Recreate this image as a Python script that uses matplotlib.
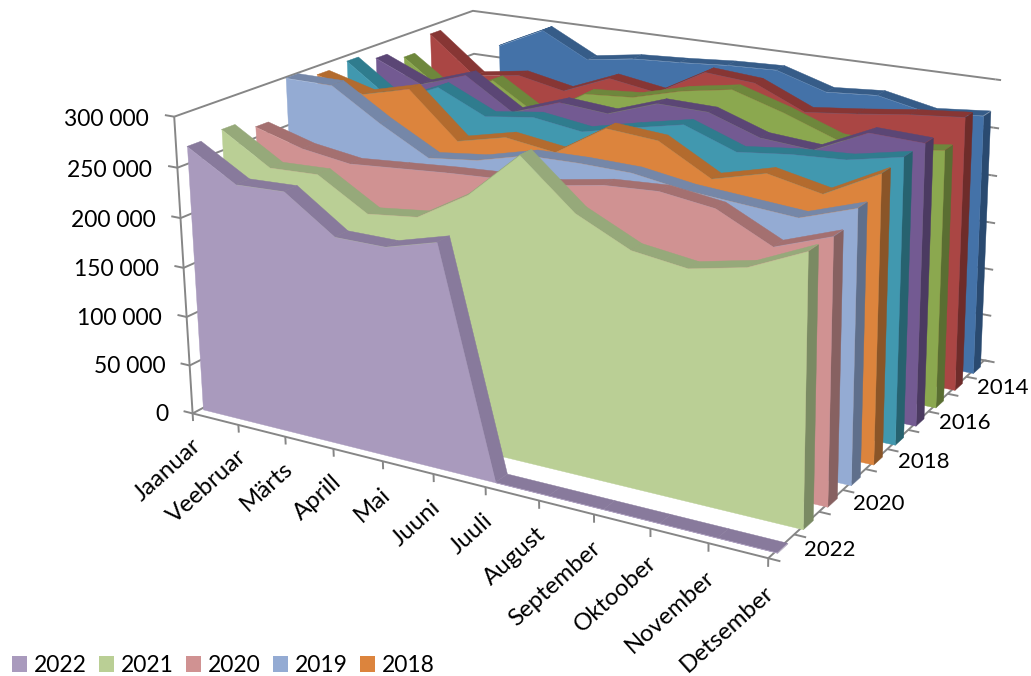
"""3D area chart of monthly values per year, Excel style"""

import numpy as np
import matplotlib
matplotlib.use("Agg")
import matplotlib.pyplot as plt
from matplotlib.patches import Patch
from mpl_toolkits.mplot3d import proj3d
from mpl_toolkits.mplot3d.art3d import Poly3DCollection

plt.rcParams['font.family'] = ['Lato', 'DejaVu Sans']

months = ['Jaanuar', 'Veebruar', 'Märts', 'Aprill', 'Mai', 'Juuni', 'Juuli', 'August',
          'September', 'Oktoober', 'November', 'Detsember']
years = [2022, 2021, 2020, 2019, 2018, 2017, 2016, 2015, 2014, 2013]
legend_years = [2022, 2021, 2020, 2019, 2018]
depth_labels = [2022, 2020, 2018, 2016, 2014]
value_ticks = [0, 50000, 100000, 150000, 200000, 250000, 300000]
value_labels = ['0', '50 000', '100 000', '150 000', '200 000', '250 000', '300 000']

v2022 = [268, 239, 241, 206, 206, 220, 0, 0, 0, 0, 0, 0]
v2021 = [272, 242, 244, 214, 220, 250, 296, 251, 226, 219, 230, 254]
v2020 = [262, 248, 241, 245, 249, 252, 254, 263, 266, 259, 233, 252]
v2019 = [300, 300, 269, 242, 248, 261, 262, 261, 253, 249, 245, 263]
v2018 = [292, 279, 292, 246, 258, 251, 283, 279, 250, 264, 253, 281]
v2017 = [295, 260, 282, 259, 266, 259, 271, 282, 263, 269, 272, 283]
v2016 = [287, 266, 283, 251, 269, 265, 283, 282, 264, 260, 285, 283]
v2015 = [277, 242, 266, 235, 266, 270, 284, 293, 277, 258, 256, 263]
v2014 = [292, 252, 260, 250, 271, 263, 292, 288, 265, 271, 278, 283]
v2013 = [np.nan, 275, 299, 273, 281, 284, 288, 290, 274, 278, 267, 272]
series = [v2022, v2021, v2020, v2019, v2018, v2017, v2016, v2015, v2014, v2013]

front_colors = ['#A99ABD', '#BACF95', '#D09292', '#94ABD3', '#DC843D',
                '#4198AF', '#735A92', '#8BA84F', '#AA4644', '#4472A8']
top_colors = ['#887A9C', '#96A97A', '#A47070', '#7587A8', '#B36B2E',
              '#2F7C8E', '#5B4675', '#6E873C', '#873634', '#365C88']
cap_colors = ['#7E7193', '#7A8A63', '#876161', '#5F6F8B', '#8A5528',
              '#27626F', '#4B3A61', '#5A6E32', '#6E2C2A', '#2A4A70']

FRONT, BACK = 0.25, 0.65
SHIFT = 0.04
AXIS_GREY = '#868686'
FONT_SIZE = 16.5

# camera, matched to the frame of the reference
W, H = 1031, 676
K, TX, TY = 4549.34, 667.375, 101.423

fig = plt.figure(figsize=(W / 100, H / 100), dpi=100)
ax = fig.add_axes([0, 0, 1, 1], projection='3d')
ax.set_axis_off()
ax.computed_zorder = False
ax.view_init(elev=15.41769, azim=-61.06614)
ax.set_proj_type('persp', focal_length=0.48322)
ax.set_box_aspect((2.08181, 1.66949, 1.0))
ax.set_xlim(0.69008, 11.69008, view_margin=0)
ax.set_ylim(1.36596, 11.36596, view_margin=0)
ax.set_zlim(134761, 434761, view_margin=0)

vl = ax.viewLim
side = K * vl.width
left = TX + K * vl.x0
top = TY - K * vl.y1
ax.set_position([left / W, 1 - (top + side) / H, side / W, side / H])


def grey_line(xs, ys, zs, lw=1.4, zorder=1):
    ax.plot(xs, ys, zs, color=AXIS_GREY, lw=lw, zorder=zorder, solid_capstyle='butt', clip_on=False)


def add_polys(polys, color, zorder):
    ax.add_collection3d(Poly3DCollection(polys, facecolor=color, edgecolor=color, linewidth=0.3,
                                         zorder=zorder, clip_on=False))


def label(x, y, z, text, **kwargs):
    # place a plain 2D text at a 3D position, so rotation is kept
    px, py, _ = proj3d.proj_transform(x, y, z, ax.get_proj())
    ax.text2D(px, py, text, transform=ax.transData, color='black', **kwargs)


# walls and axes
for z in value_ticks:
    grey_line([0, 0, 11], [0, 10, 10], [z, z, z])
    grey_line([-0.2, 0], [0, 0], [z, z])
    grey_line([11, 11.1], [10, 10], [z, z])
grey_line([0, 0], [0, 0], [0, 300000])
grey_line([0, 11, 11], [0, 0, 10], [0, 0, 0])
for m in range(12):
    grey_line([m, m], [0, 0], [0, -8000])
for k in range(11):
    grey_line([11, 11.2], [k, k], [0, 0])

# ribbons, back to front
zo = 10
for i in reversed(range(len(years))):
    vals = np.array(series[i], dtype=float) * 1000
    y0, y1 = i + FRONT, i + BACK
    m = np.arange(12) + SHIFT
    ok = ~np.isnan(vals)
    mx, vz = m[ok], vals[ok]
    end = mx[-1]

    add_polys([[(end, y0, 0), (end, y1, 0), (end, y1, vz[-1]), (end, y0, vz[-1])]], cap_colors[i], zo)
    strips = []
    for a, b, za, zb in zip(mx[:-1], mx[1:], vz[:-1], vz[1:]):
        strips.append([(a, y0, za), (b, y0, zb), (b, y1, zb), (a, y1, za)])
    add_polys(strips, top_colors[i], zo + 1)
    face = [(mx[0], y0, 0)] + [(a, y0, z) for a, z in zip(mx, vz)] + [(end, y0, 0)]
    add_polys([face], front_colors[i], zo + 2)
    zo += 3

# tick labels
for z, lab in zip(value_ticks, value_labels):
    label(-0.55, 0, z - 5500, lab, ha='right', va='center_baseline', fontsize=FONT_SIZE)
for mi, lab in enumerate(months):
    label(mi - 0.07, 0, -23000, lab, ha='right', va='top', rotation=42,
          rotation_mode='anchor', fontsize=17.3)
for yr in depth_labels:
    label(11.38, years.index(yr) + 0.5, 4000, str(yr), ha='left', va='center_baseline', fontsize=16)

handles = [Patch(facecolor=front_colors[years.index(y)], label=str(y)) for y in legend_years]
fig.legend(handles=handles, loc='lower left', bbox_to_anchor=(12 / W, 0.0), ncol=5, frameon=False,
           fontsize=FONT_SIZE, handlelength=0.64, handleheight=0.64, handletextpad=0.3,
           columnspacing=0.55, borderaxespad=0, borderpad=0)

fig.savefig("out.png", dpi=100)
